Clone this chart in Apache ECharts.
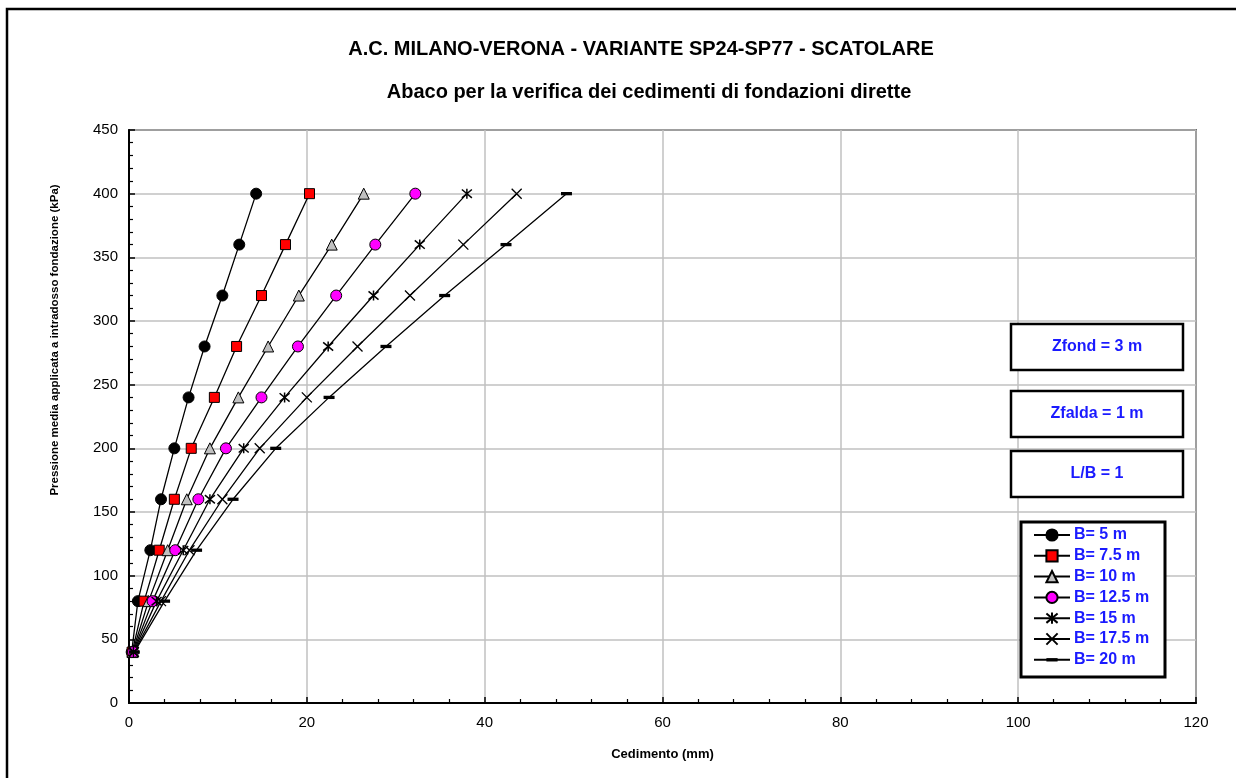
<!DOCTYPE html>
<html>
<head>
<meta charset="utf-8">
<script src="https://cdn.jsdelivr.net/npm/echarts@6/dist/echarts.min.js"></script>
<style>
  html, body { margin: 0; padding: 0; background: #fff; }
  #chart { width: 1236px; height: 778px; }
</style>
</head>
<body>
<div id="chart"></div>
<script>
// pressione (kPa) - asse y
const pressure = [40, 80, 120, 160, 200, 240, 280, 320, 360, 400];
// cedimenti (mm) per ciascuna larghezza B
const b5    = [0.3, 1.0, 2.4, 3.6, 5.1, 6.7, 8.5, 10.5, 12.4, 14.3];
const b7_5  = [0.35, 1.7, 3.4, 5.1, 7.0, 9.6, 12.1, 14.9, 17.6, 20.3];
const b10   = [0.4, 2.2, 4.35, 6.5, 9.1, 12.3, 15.65, 19.1, 22.8, 26.4];
const b12_5 = [0.45, 2.65, 5.2, 7.8, 10.9, 14.9, 19.0, 23.3, 27.7, 32.2];
const b15   = [0.5, 3.1, 6.1, 9.1, 12.9, 17.5, 22.4, 27.5, 32.7, 38.0];
const b17_5 = [0.55, 3.6, 6.8, 10.5, 14.7, 20.0, 25.7, 31.6, 37.6, 43.6];
const b20   = [0.6, 4.0, 7.6, 11.7, 16.5, 22.5, 28.9, 35.5, 42.4, 49.2];
const seriesNames = ['B= 5 m', 'B= 7.5 m', 'B= 10 m', 'B= 12.5 m', 'B= 15 m', 'B= 17.5 m', 'B= 20 m'];
const xTicks = [0, 120, 20];   // min, max, interval
const yTicks = [0, 450, 50];

const FONT = 'Arial, "Liberation Sans", sans-serif';
const BLUE = '#1a1aff';

function pts(xs) {
  return xs.map((x, i) => [x, pressure[i]]);
}

// simboli (il trattino ha un riquadro quadrato invisibile, cosi' resta piatto anche in legenda)
const symAsterisk = 'path://M0,0 L10,10 M10,0 L0,10 M5,-1 L5,11';
const symCross = 'path://M0,0 L10,10 M10,0 L0,10';
const symDash = 'path://M0,0 M10,10 M0,3.5 L10,3.5 L10,6.5 L0,6.5 Z';

function mkSeries(name, xs, symbol, size, itemStyle) {
  return {
    name: name,
    type: 'line',
    data: pts(xs),
    symbol: symbol,
    symbolSize: size,
    showAllSymbol: true,
    lineStyle: { color: '#000', width: 1.3 },
    itemStyle: itemStyle,
    emphasis: { disabled: true },
    z: 3
  };
}

const series = [
  mkSeries(seriesNames[0], b5, 'circle', 11, { color: '#000', borderColor: '#000', borderWidth: 1 }),
  mkSeries(seriesNames[1], b7_5, 'rect', 10, { color: '#ff0000', borderColor: '#000', borderWidth: 1 }),
  mkSeries(seriesNames[2], b10, 'triangle', 11, { color: '#c0c0c0', borderColor: '#000', borderWidth: 1 }),
  mkSeries(seriesNames[3], b12_5, 'circle', 11, { color: '#ff00ff', borderColor: '#000', borderWidth: 1 }),
  mkSeries(seriesNames[4], b15, symAsterisk, 10, { color: 'rgba(0,0,0,0)', borderColor: '#000', borderWidth: 1.5 }),
  mkSeries(seriesNames[5], b17_5, symCross, 10, { color: 'rgba(0,0,0,0)', borderColor: '#000', borderWidth: 1.3 }),
  mkSeries(seriesNames[6], b20, symDash, 11, { color: '#000', borderColor: '#000', borderWidth: 0 })
];

const chart = echarts.init(document.getElementById('chart'));

function box(x, y, w, h, label) {
  return [
    { type: 'rect', shape: { x: x, y: y, width: w, height: h },
      style: { fill: '#fff', stroke: '#000', lineWidth: 2.5 }, z: 10 },
    { type: 'text', x: x + w / 2, y: y + h / 2,
      style: { text: label, fill: BLUE, font: 'bold 16px ' + FONT, align: 'center', verticalAlign: 'middle' }, z: 11 }
  ];
}

chart.setOption({
  backgroundColor: '#fff',
  animation: false,
  textStyle: { fontFamily: FONT },
  title: [
    { text: 'A.C. MILANO-VERONA - VARIANTE SP24-SP77 - SCATOLARE', left: 636, top: 34, textAlign: 'center',
      textStyle: { fontSize: 20, fontWeight: 'bold', color: '#000', fontFamily: FONT } },
    { text: 'Abaco per la verifica dei cedimenti di fondazioni dirette', left: 644, top: 77, textAlign: 'center',
      textStyle: { fontSize: 20, fontWeight: 'bold', color: '#000', fontFamily: FONT } }
  ],
  grid: {
    left: 129, top: 130, right: 40, bottom: 75,
    show: true, borderColor: '#000', borderWidth: 1.5, backgroundColor: 'transparent'
  },
  legend: {
    orient: 'vertical',
    left: 1033, top: 527,
    padding: 0,
    itemWidth: 36, itemHeight: 14, itemGap: 4.8,
    data: seriesNames,
    selectedMode: false,
    textStyle: { color: BLUE, fontSize: 16, fontWeight: 'bold', fontFamily: FONT, padding: [0, 0, 0, -1] },
    z: 12
  },
  xAxis: {
    type: 'value',
    min: xTicks[0], max: xTicks[1], interval: xTicks[2],
    name: 'Cedimento (mm)', nameLocation: 'middle', nameGap: 45,
    nameTextStyle: { fontSize: 13, fontWeight: 'bold', color: '#000', fontFamily: FONT },
    axisLine: { show: true, lineStyle: { color: '#000', width: 2 } },
    axisTick: { show: true, inside: true, length: 6, lineStyle: { color: '#000', width: 1.5 } },
    minorTick: { show: true, splitNumber: 5, length: 4, lineStyle: { color: '#000', width: 1.2 } },
    axisLabel: { fontSize: 15, color: '#000', margin: 12, fontFamily: FONT },
    splitLine: { show: true, lineStyle: { color: '#c0c0c0', width: 1.5 } }
  },
  yAxis: {
    type: 'value',
    min: yTicks[0], max: yTicks[1], interval: yTicks[2],
    axisLine: { show: true, lineStyle: { color: '#000', width: 2 } },
    axisTick: { show: true, inside: true, length: 6, lineStyle: { color: '#000', width: 1.5 } },
    minorTick: { show: true, splitNumber: 5, length: 4, lineStyle: { color: '#000', width: 1.2 } },
    axisLabel: { fontSize: 15, color: '#000', margin: 11, fontFamily: FONT },
    splitLine: { show: true, lineStyle: { color: '#c0c0c0', width: 1.5 } }
  },
  graphic: [
    // bordo esterno
    { type: 'rect', shape: { x: 7, y: 9, width: 1260, height: 800 },
      style: { fill: 'none', stroke: '#000', lineWidth: 2.5 }, silent: true, z: 0 },
    // asse y: titolo
    { type: 'text', x: 55, y: 340, rotation: Math.PI / 2,
      style: { text: 'Pressione media applicata a intradosso fondazione (kPa)', fill: '#000',
        font: 'bold 11.5px ' + FONT, align: 'center', verticalAlign: 'middle' } },
    ...box(1011, 324, 172, 46, 'Zfond = 3 m'),
    ...box(1011, 391, 172, 46, 'Zfalda = 1 m'),
    ...box(1011, 451, 172, 46, 'L/B = 1'),
    // riquadro legenda
    { type: 'rect', shape: { x: 1021, y: 522, width: 144, height: 155 },
      style: { fill: '#fff', stroke: '#000', lineWidth: 3 }, z: 10 }
  ],
  series: series
});
</script>
</body>
</html>
